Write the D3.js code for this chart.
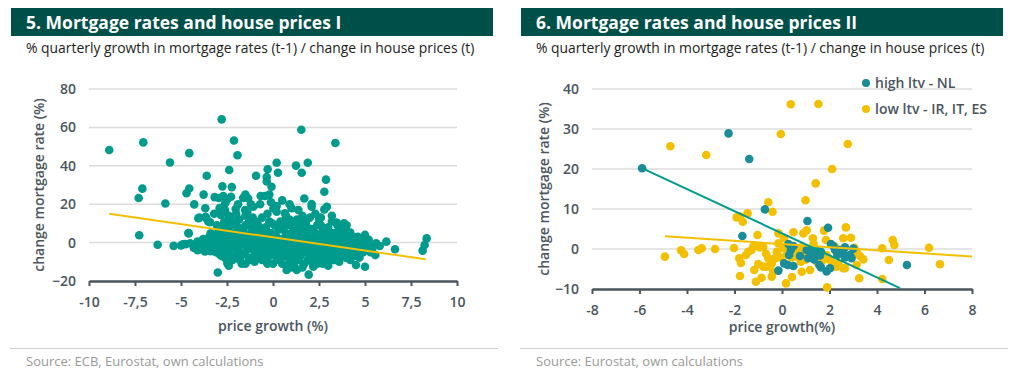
<!DOCTYPE html>
<html>
<head>
<meta charset="utf-8">
<script src="https://cdn.jsdelivr.net/npm/d3@7"></script>
<style>
    body { margin: 0; background: #fff; }
    svg { display: block; font-family: "Open Sans", sans-serif; }
</style>
</head>
<body>
<svg id="chart" width="1018" height="372"></svg>
<script>
// ---- data ----

// chart 5: all countries, [price growth, change mortgage rate]
var points5 = [
    [-8.9,48.2],[-7.05,52.2],[-7.1,28.1],[-7.3,23.2],[-7.27,3.8],[-6.27,-1.1],[-5.6,41.7],[-5.85,20.4],[-5.4,-1.7],
    [-4.55,46.6],[-4.55,28.2],[-4.7,25.7],[-4.6,5],[-4.9,-0.9],[-4.28,19.9],[-3.6,34.8],[-3.77,25],[-3.68,17.9],
    [-4.0,13],[-3.6,12.3],[-3.42,10.6],[-3.37,4.5],[-3.39,-4.5],[-4.1,-3.9],[-3.0,-15.6],[-2.48,-10.8],[-2.79,64.2],
    [-2.12,53.2],[-1.93,45.5],[-2.38,37.8],[-2.75,29.3],[-2.24,28.9],[-3.17,23.7],[-2.95,23.2],[-2.7,24.2],[-2.5,22.3],
    [-2.6,20.5],[-2.28,23.9],[-2.03,17.5],[-1.62,23.3],[-1.35,23],[-0.67,24.3],[-0.43,24.3],[-0.92,34.8],[-0.29,38.2],
    [-0.34,34.2],[-0.34,31.8],[-0.08,29.1],[0.2,41.6],[0.27,36.4],[1.54,58.8],[3.39,51.9],[1.25,40.1],[1.89,41.6],
    [1.56,36.4],[2.88,32.8],[2.79,26.5],[2.1,20.1],[2.1,18.7],[2.93,18.7],[2.79,17.3],[3.46,10.4],[3.86,10],
    [-1.07,18.7],[-1.52,17],[-0.11,21],[0.02,17.9],[0.2,16.1],[0.65,15.3],[1.01,17.9],[1.38,17],[-2.8,15.6],
    [-2.4,14],[-2.84,14.4],[-3.51,10.9],[-4.06,12.7],[-3.66,13.5],[-4.58,4.8],[-3.39,4.8],
    [-5.0,-1.5],[-4.75,-0.8],[-4.5,-0.3],[-4.3,-2.8],[-4.1,0.5],[-3.9,-1.2],[-3.8,1.8],[-3.6,-0.6],[-3.5,2.5],
    [-3.3,-2.2],[-3.2,1.0],[-4.0,-3.4],[-3.7,-4.6],
    [5,4],[5.6,-0.4],[6.16,0.5],[6.63,-3.5],[5.56,-6.5],[5.4,-3.2],[5.2,1.5],[5.8,-1.8],[8.35,2.2],[8.24,-1.25],
    [8.13,-4.2],[5.0,-12.6],[4.51,-11.7],[1.94,-16.7],[0.74,-14.3],[1.29,-14.3],[2.19,-12.6],[2.95,-9.1],[4.7,-7.8],
    [4.3,-3.5],[4.8,0.5],[4.5,2.8],[4.2,5.2],[3.9,1.5],[5.1,-2.5],
    [-2.9,-6],[-2.9,2],[-2.85,8],[-2.7,-3],[-2.7,5],[-2.65,11],[-2.6,-8],[-2.5,0],[-2.45,7],[-2.4,-5],[-2.35,3],
    [-2.2,-2],[-2.2,10],[-2.15,-7],[-2.1,5],[-2.05,1],[-1.9,-4],[-1.9,8],[-1.85,12],[-1.8,-9],[-1.8,2],
    [-1.6,-1],[-1.6,6],[-1.55,-6],[-1.5,14],[-1.45,3],[-1.3,-3],[-1.3,9],[-1.25,0],[-1.2,-8],[-1.2,5],
    [-1.0,-5],[-1.0,2],[-0.95,11],[-0.9,-1],[-0.9,7],[-0.7,-7],[-0.7,4],[-0.65,-2],[-0.6,13],[-0.6,1],
    [-0.4,-4],[-0.4,8],[-0.35,-10],[-0.3,3],[-0.3,-1],[-0.1,-6],[-0.1,5],[-0.05,10],[0,-2],[0,1],
    [0.2,-8],[0.2,3],[0.25,-4],[0.3,7],[0.3,0],[0.5,-11],[0.5,-5],[0.55,2],[0.6,9],[0.6,-2],
    [0.8,-7],[0.8,4],[0.85,-1],[0.9,12],[0.9,-9],[1.1,-3],[1.1,6],[1.15,-12],[1.2,1],[1.2,-6],
    [1.4,-9],[1.4,3],[1.45,-2],[1.5,8],[1.5,-5],[1.7,-11],[1.7,0],[1.75,5],[1.8,-4],[1.8,11],
    [2.0,-7],[2.0,2],[2.05,-2],[2.1,7],[2.1,-10],[2.3,-5],[2.3,4],[2.35,-1],[2.4,9],[2.4,-8],
    [2.6,-3],[2.6,1],[2.65,-7],[2.7,6],[2.7,-11],[2.9,-1],[2.9,4],[2.95,-5],[3.0,8],[3.0,-8],
    [3.2,-3],[3.2,2],[3.25,-6],[3.3,5],[3.3,0],[3.5,-4],[3.5,1],[3.55,-7],[3.6,4],[3.6,-1],
    [3.8,-2],[3.8,-6],[3.85,3],[3.9,-4],[4.1,0],[4.1,-5],[4.15,2],[4.2,-2],[4.4,-1],[4.4,-6],[4.45,1],
    [4.7,-3],[4.7,2],[4.75,-5],
    [-2.0,-1],[-1.7,4],[-1.4,-3],[-1.1,1],[-0.8,-4],[-0.5,6],[-0.2,-3],[0.1,4],[0.4,-1],[0.7,0],[1.0,-1],
    [1.3,-7],[1.6,2],[1.9,-3],[2.2,0],[2.5,-6],[2.8,-2],[3.1,-4],[3.4,-9],[3.7,1],[4.0,-8],[-0.5,-8],[0.0,-11],
    [1.0,-13],[1.6,-13],[2.2,-9],[0.4,11],[1.3,10],[-1.1,13],[-2.3,12],[2.5,12],[2.0,13],[1.6,14],[0.7,14],
    [-0.3,15],[-1.4,16],[-2.0,15],[-2.6,17],[3.2,11],[3.6,7],[4.0,6],[-2.4,-12],[-1.7,-11],[-1.0,-10],[3.0,-12],
    [3.6,-10],[4.2,-9],
    [-3.1,4],[-3.0,-2],[-3.05,9],[-2.9,18],[-3.2,15],[-2.7,16],[-1.9,20],[-1.2,20],[-0.2,25],[0.5,22],[0.9,20],
    [1.7,23],[2.3,15],[2.6,13],[3.2,14],[3.5,9],[4.0,9],[-0.7,20],[-1.5,25],[0.2,19],[1.3,12],
    // dense core of the cloud
    [-2.2,-9],[-1.3,-9],[-0.6,-9],[0.3,-9],[1.1,-9],[1.9,-9],[2.6,-9],[3.3,-9],
    [-2.8,-7],[-2.0,-7],[-1.0,-7],[-0.2,-7],[0.6,-7],[1.5,-7],[2.3,-7],[3.0,-7],[3.8,-7],[4.5,-7],
    [-2.4,-6],[-1.5,-6],[-0.5,-6],[0.2,-6],[1.2,-6],[2.0,-6],[2.8,-6],[3.6,-6],[4.2,-6],
    [-3.1,-5],[-2.5,-5],[-1.8,-5],[-0.9,-5],[-0.1,-5],[0.9,-5],[1.7,-5],[2.5,-5],[3.2,-5],[4.0,-5],[4.9,-5],[5.3,-5],
    [-3.4,-3],[-2.6,-3],[-2.0,-3],[-1.1,-3],[-0.5,-3],[0.4,-3],[1.3,-3],[2.1,-3],[2.9,-3],[3.6,-3],[4.3,-3],[5.0,-3],
    [-3.0,-2],[-2.2,-2],[-1.3,-2],[-0.2,-2],[0.7,-2],[1.6,-2],[2.3,-2],[3.2,-2],[3.9,-2],[4.6,-2],[5.4,-2],
    [-3.7,-1],[-2.8,-1],[-2.3,-1],[-1.6,-1],[-0.7,-1],[0.2,-1],[0.9,-1],[1.8,-1],[2.6,-1],[3.4,-1],[4.1,-1],[4.9,-1],
    [-2.9,0],[-2.1,0],[-1.5,0],[-0.9,0],[0.0,0],[0.9,0],[1.3,0],[2.0,0],[2.8,0],[3.6,0],[4.4,0],
    [-3.3,1],[-2.6,1],[-1.9,1],[-1.2,1],[-0.3,1],[0.6,1],[1.5,1],[2.4,1],[3.1,1],[3.9,1],[4.5,1],
    [-2.4,2],[-1.7,2],[-1.0,2],[-0.1,2],[0.8,2],[1.7,2],[2.6,2],[3.3,2],[4.2,2],
    [-2.8,3],[-2.2,3],[-1.4,3],[-0.8,3],[0.1,3],[1.0,3],[1.9,3],[2.7,3],[3.5,3],[4.6,3],
    [-3.0,5],[-2.4,5],[-1.6,5],[-0.9,5],[-0.2,5],[0.7,5],[1.6,5],[2.3,5],[3.1,5],[3.8,5],
    [-2.6,7],[-1.9,7],[-1.1,7],[-0.4,7],[0.4,7],[1.3,7],[2.0,7],[2.8,7],
    [-2.3,9],[-1.5,9],[-0.8,9],[0.1,9],[0.9,9],[1.8,9],[2.6,9],
    [-2.0,11],[-1.3,11],[-0.2,11],[0.6,11],[1.6,11],
    [-1.5,-11],[-0.3,-11],[0.9,-11],[2.4,-11]
];
var trend5 = [[-8.9, 15], [8.3, -8.7]];
var xTicks5 = [-10, -7.5, -5, -2.5, 0, 2.5, 5, 7.5, 10];
var yTicks5 = [-20, 0, 20, 40, 60, 80];

// chart 6: high ltv (NL) and low ltv (IR, IT, ES)
var highLtv = [
    [-5.89,20.2],[-2.25,28.9],[-1.38,22.5],[-0.72,9.9],[-1.67,3.25],[1.07,7],[1.94,5.3],[5.26,-4],[-0.15,-5.4],
    [0.27,1.25],[0.37,-0.25],[0.24,-4],[0.48,-4.25],[0.76,-1.75],[1.04,-0.25],[1.25,-1.1],[1.35,-2.6],[1.46,-0.4],
    [1.6,-1.6],[1.57,-4],[1.64,-4.6],[1.88,-5.6],[2.02,-4.8],[2.16,0.75],[2.44,-0.25],[2.56,-0.7],[2.86,-1.5],
    [2.93,-2.3],[3.0,0.1],[2.65,-2.1],[2.06,1.25],[2.23,-0.25],[2.33,-1.5],[2.65,0.4],[0.3,-1.5],[0.48,0.75],
    [1.18,-0.25],[1.29,-1.9],[1.64,-0.7],[0.09,-3.6],[1.1,-2.3]
];
var lowLtv = [
    [-4.7,25.7],[-3.19,23.5],[-4.93,-1.9],[-4.25,-0.3],[-4.12,-1.25],[-3.52,-0.25],[-3.38,0.2],[-2.82,0],[-2.02,0.25],
    [-1.91,7.9],[-1.65,6.8],[-1.45,8.9],[-1.77,8.1],[-1.03,3.5],[-0.58,11.7],[-0.4,9.3],[0.37,36.2],[1.53,36.25],
    [-0.05,28.75],[2.77,26.25],[2.11,20],[1.42,16.4],[0.99,12.2],[2.69,5.4],[2.58,2.7],[2.9,2.8],[3.05,0.3],
    [3.17,-1.1],[3.28,-1.75],[3.42,-2.6],[3.14,-4],[3.25,-7.3],[4.22,0.2],[4.66,2.25],[4.73,1],[4.5,-2.75],
    [4.22,-7.5],[6.19,0.3],[6.65,-3.8],[1.9,-9.6],[0.17,-8.6],[0.42,-7],[0.83,-5.7],[-0.37,-5.7],[-0.43,-6.9],
    [-0.67,-1.2],[-0.22,-0.7],[-0.15,1.4],[-0.15,3.9],[0.08,2.7],[0.48,4.2],[0.9,3.9],[1.04,4.7],[1.3,2.7],
    [1.33,1.3],[1.77,4.6],[1.85,2.25],[2.23,0.6],[0.55,-1.1],[0.62,-1.9],[0.9,-1.5],[0.97,-2.75],[1.39,-0.9],
    [1.46,-3.2],[1.67,-2.3],[1.95,-2.3],[2.09,-3.2],[2.3,-4.4],[2.65,-4.8],[-0.08,-2.1],[-0.58,-2.3],[-0.43,-3.6],
    [0.79,-3.2],[1.18,-5.25],[1.6,-2.75],[-1.8,-2.3],[-1.73,-3.5],[-1.52,-1.5],[-1.42,-0.7],[-1.28,-0.25],
    [-1.17,0.75],[-0.93,0.4],[-1.77,-6.75],[-1.17,-5.25],[-0.86,-7.2],[-1.1,-8.2],[-0.64,-4.4],[-0.29,-2.3],
    [0.05,0.2],[0.2,-1.5],[0.41,-2.1],[0.62,-0.25],[0.83,0.4],[1.04,-1.5],[1.46,-2.1],[1.74,-2.75],[1.88,-1.5],
    [2.16,-4.4],[2.37,-3.6],[2.58,-4.8],[-1.0,-3.75],[-0.79,-4.4],[-1.21,0.6],[-0.79,0.6]
];
var trendHigh = [[-5.9, 20.2], [4.97, -9.8]];
var trendLow = [[-4.93, 3.2], [8, -1.9]];
var xTicks6 = [-8, -6, -4, -2, 0, 2, 4, 6, 8];
var yTicks6 = [-10, 0, 10, 20, 30, 40];
var legend6 = ["high ltv - NL", "low ltv - IR, IT, ES"];

// ---- styling ----
var TEAL = "#009b8c";
var TEAL2 = "#1a8d98";
var YELLOW = "#f3c000";
var HEADER = "#00504a";
var AXIS = "#4a555e";
var GRID = "#dcdcdc";

var svg = d3.select("#chart");

function fmtComma(d) { return String(d).replace(".", ","); }

// Builds one panel: header bar, subtitle, axes, grid, footer
function drawPanel(p) {
    var g = svg.append("g");

    g.append("rect")
        .attr("x", p.left).attr("y", 8)
        .attr("width", 482).attr("height", 28)
        .attr("fill", HEADER);
    g.append("text")
        .attr("x", p.left + 15).attr("y", 28.5)
        .attr("fill", "#fff")
        .attr("font-size", "17.5px")
        .attr("font-weight", 700)
        .text(p.title);
    g.append("text")
        .attr("x", p.left + 15).attr("y", 53)
        .attr("fill", "#222")
        .attr("font-size", "13.9px")
        .text("% quarterly growth in mortgage rates (t-1) / change in house prices (t)");

    var x = d3.scaleLinear().domain(p.xDomain).range([p.plot.x0, p.plot.x1]);
    var y = d3.scaleLinear().domain(p.yDomain).range([p.plot.y1, p.plot.y0]);

    // gridlines
    g.append("g").selectAll("line")
        .data(p.yTicks.filter(function (d) { return d !== p.yDomain[0]; }))
        .enter().append("line")
        .attr("x1", p.plot.x0).attr("x2", p.plot.x1)
        .attr("y1", function (d) { return y(d); })
        .attr("y2", function (d) { return y(d); })
        .attr("stroke", GRID).attr("stroke-width", 1.5);

    // y axis labels
    var ya = g.append("g")
        .attr("transform", "translate(" + p.plot.x0 + ",0)")
        .call(d3.axisLeft(y).tickValues(p.yTicks).tickSize(0).tickPadding(13));
    ya.select(".domain").remove();
    ya.selectAll("text")
        .attr("font-family", "Open Sans, sans-serif")
        .attr("font-size", "14px").attr("font-weight", 600).attr("fill", AXIS);

    // x axis
    var xa = g.append("g")
        .attr("transform", "translate(0," + p.plot.y1 + ")")
        .call(d3.axisBottom(x).tickValues(p.xTicks).tickSize(5).tickSizeOuter(0).tickPadding(11).tickFormat(p.xFormat));
    xa.select(".domain").attr("stroke", AXIS).attr("stroke-width", 2.5);
    xa.selectAll(".tick line").attr("stroke", AXIS).attr("stroke-width", 2);
    xa.selectAll("text")
        .attr("font-family", "Open Sans, sans-serif")
        .attr("font-size", "14px").attr("font-weight", 600).attr("fill", AXIS);

    // axis titles
    g.append("text")
        .attr("x", p.xTitleX).attr("y", p.xTitleY)
        .attr("text-anchor", "middle")
        .attr("font-size", "14px").attr("font-weight", 600).attr("fill", AXIS)
        .text(p.xTitle);
    g.append("text")
        .attr("transform", "translate(" + p.yTitleX + "," + p.yTitleY + ") rotate(-90)")
        .attr("text-anchor", "middle")
        .attr("font-size", "14px").attr("font-weight", 600).attr("fill", AXIS)
        .text("change mortgage rate (%)");

    // footer
    g.append("line")
        .attr("x1", p.left - 1).attr("x2", p.left + 487)
        .attr("y1", 348.5).attr("y2", 348.5)
        .attr("stroke", "#cfcfcf").attr("stroke-width", 1);
    g.append("text")
        .attr("x", p.left + 15).attr("y", 366)
        .attr("font-size", "13px").attr("fill", "#999")
        .text(p.source);

    return { g: g, x: x, y: y };
}

function addDots(c, data, color) {
    c.g.append("g").selectAll("circle")
        .data(data)
        .enter().append("circle")
        .attr("cx", function (d) { return c.x(d[0]); })
        .attr("cy", function (d) { return c.y(d[1]); })
        .attr("r", 4.3)
        .attr("fill", color);
}

function addLine(c, data, color) {
    c.g.append("path")
        .datum(data)
        .attr("fill", "none")
        .attr("stroke", color)
        .attr("stroke-width", 2)
        .attr("d", d3.line().x(function (d) { return c.x(d[0]); }).y(function (d) { return c.y(d[1]); }));
}

// Chart 5
var c5 = drawPanel({
    left: 11,
    title: "5. Mortgage rates and house prices I",
    xDomain: [-10, 10], yDomain: [-20, 80],
    xTicks: xTicks5, yTicks: yTicks5, xFormat: fmtComma,
    plot: { x0: 89, x1: 457, y0: 89, y1: 281 },
    xTitle: "price growth (%)", xTitleX: 273, xTitleY: 331,
    yTitleX: 44, yTitleY: 185,
    source: "Source: ECB, Eurostat, own calculations"
});
addDots(c5, points5, TEAL);
addLine(c5, trend5, YELLOW);

// Chart 6
var c6 = drawPanel({
    left: 521,
    title: "6. Mortgage rates and house prices II",
    xDomain: [-8, 8], yDomain: [-10, 40],
    xTicks: xTicks6, yTicks: yTicks6, xFormat: fmtComma,
    plot: { x0: 592, x1: 972, y0: 89, y1: 289 },
    xTitle: "price growth(%)", xTitleX: 782, xTitleY: 332,
    yTitleX: 549, yTitleY: 189,
    source: "Source: Eurostat, own calculations"
});
addDots(c6, lowLtv, YELLOW);
addDots(c6, highLtv, TEAL2);
addLine(c6, trendLow, YELLOW);
addLine(c6, trendHigh, TEAL);

// legend
var lg = c6.g.append("g").selectAll("g")
    .data(legend6)
    .enter().append("g")
    .attr("transform", function (d, i) { return "translate(866," + (83 + i * 26) + ")"; });
lg.append("circle")
    .attr("r", 4)
    .attr("fill", function (d, i) { return i === 0 ? TEAL2 : YELLOW; });
lg.append("text")
    .attr("x", 9).attr("dy", "0.35em")
    .attr("font-size", "14px").attr("font-weight", 600).attr("fill", AXIS)
    .text(function (d) { return d; });
</script>
</body>
</html>
